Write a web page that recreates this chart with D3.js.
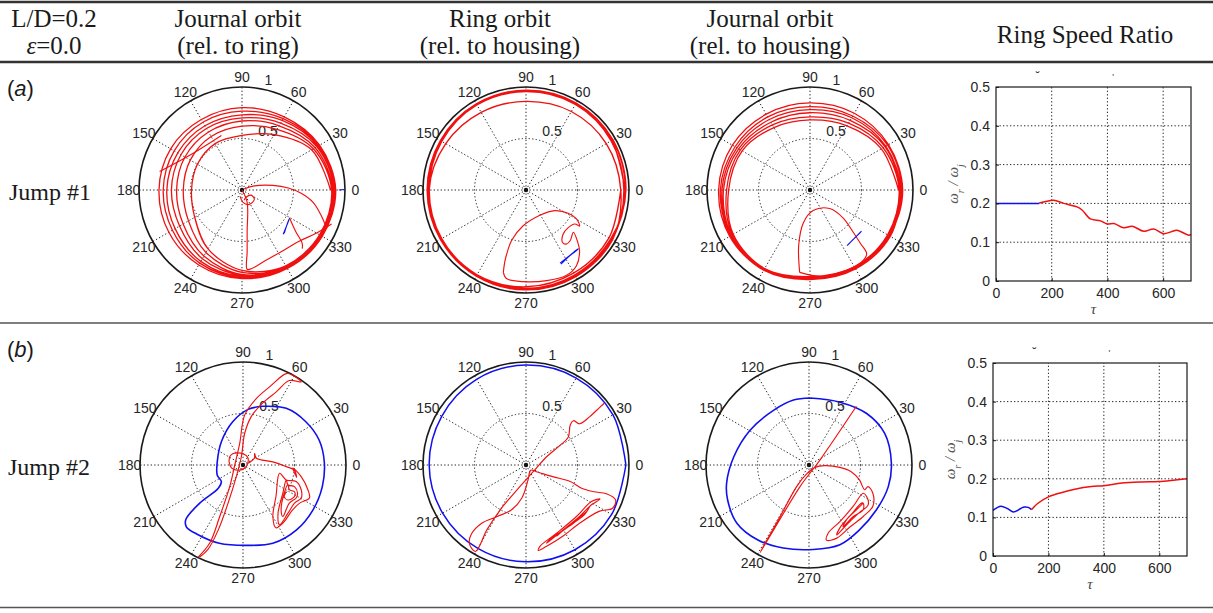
<!DOCTYPE html>
<html>
<head>
<meta charset="utf-8">
<script src="https://cdn.jsdelivr.net/npm/d3@7"></script>
<style>
  html, body { margin: 0; padding: 0; background: #fff; }
  svg { display: block; }
</style>
</head>
<body>
<svg id="fig" width="1213" height="613"></svg>
<script>
// ---------- axis ticks ----------
const angleTicks = [0, 30, 60, 90, 120, 150, 180, 210, 240, 270, 300, 330];
const radialTicks = [0.5, 1];
const loopAngles = [0, 30, 60, 90, 120, 150, 180, 210, 240, 270, 300, 330];
const tauTicks = [0, 200, 400, 600];
const ratioTicks = [0, 0.1, 0.2, 0.3, 0.4, 0.5];

// ---------- Jump #1 : journal orbit relative to ring ----------
const j1JrLoops = [
  [0.86, 0.78, 0.62, 0.53, 0.52, 0.50, 0.49, 0.53, 0.66, 0.78, 0.85, 0.87],
  [0.87, 0.80, 0.68, 0.62, 0.60, 0.58, 0.57, 0.60, 0.70, 0.80, 0.86, 0.88],
  [0.88, 0.82, 0.72, 0.67, 0.65, 0.64, 0.635, 0.66, 0.74, 0.82, 0.86, 0.88],
  [0.89, 0.84, 0.75, 0.70, 0.69, 0.685, 0.685, 0.70, 0.77, 0.83, 0.87, 0.89],
  [0.90, 0.85, 0.78, 0.73, 0.72, 0.72, 0.73, 0.75, 0.80, 0.84, 0.87, 0.89],
  [0.90, 0.86, 0.80, 0.765, 0.76, 0.76, 0.765, 0.78, 0.82, 0.85, 0.88, 0.90],
  [0.91, 0.87, 0.82, 0.80, 0.79, 0.80, 0.806, 0.82, 0.84, 0.86, 0.88, 0.90]
];
const j1JrRed = [
  [[0.46, -0.27], [0.52, -0.40], [0.585, -0.52], [0.585, -0.57]],
  [[0.02, 0.01], [0.12, 0.04], [0.30, 0.045], [0.45, 0.02], [0.57, -0.03], [0.69, -0.12], [0.77, -0.25], [0.82, -0.37]],
  [[-0.02, -0.06], [0.01, -0.12], [0.07, -0.14], [0.12, -0.09], [0.09, -0.05], [0.04, -0.07], [0.02, -0.10]],
  [[0, 0], [0.05, -0.12], [0.05, -0.40], [0.05, -0.60], [0.05, -0.77], [0.10, -0.76], [0.22, -0.69], [0.38, -0.60], [0.55, -0.50], [0.72, -0.42], [0.87, -0.33]],
  [[-0.80, 0.18], [-0.52, 0.33], [-0.20, 0.53]]
];
const j1JrBlue = [
  [[0.40, -0.43], [0.44, -0.33], [0.46, -0.28], [0.45, -0.30], [0.41, -0.42]],
  [[0.94, 0.0], [0.99, 0.005]]
];

// ---------- Jump #1 : ring orbit relative to housing ----------
const j1RhLoops = [
  [0.96, 0.96, 0.96, 0.955, 0.955, 0.95, 0.95, 0.95, 0.955, 0.96, 0.96, 0.96],
  [0.965, 0.97, 0.97, 0.965, 0.96, 0.955, 0.955, 0.955, 0.96, 0.965, 0.965, 0.965],
  [0.95, 0.955, 0.96, 0.96, 0.955, 0.945, 0.94, 0.945, 0.95, 0.955, 0.95, 0.95],
  [0.97, 0.975, 0.975, 0.97, 0.965, 0.96, 0.96, 0.96, 0.965, 0.97, 0.97, 0.97],
  [0.92, 0.90, 0.88, 0.86, 0.87, 0.90, 0.94, 0.95, 0.95, 0.94, 0.93, 0.93]
];
const j1RhRed = [
  [[-0.22, -0.80], [-0.20, -0.67], [-0.14, -0.49], [-0.03, -0.35], [0.135, -0.245], [0.28, -0.20],
   [0.41, -0.226], [0.49, -0.28], [0.52, -0.35], [0.474, -0.33], [0.41, -0.365], [0.36, -0.43],
   [0.355, -0.51], [0.39, -0.525], [0.43, -0.49], [0.46, -0.41], [0.50, -0.50], [0.52, -0.59],
   [0.49, -0.735], [0.39, -0.83], [0.20, -0.88], [-0.026, -0.89], [-0.19, -0.86], [-0.22, -0.80]]
];
const j1RhBlue = [
  [[0.33, -0.71], [0.42, -0.64], [0.506, -0.57], [0.50, -0.58], [0.41, -0.65], [0.34, -0.72]]
];

// ---------- Jump #1 : journal orbit relative to housing ----------
const j1JhLoops = [
  [0.86, 0.80, 0.72, 0.68, 0.70, 0.76, 0.79, 0.86, 0.88, 0.84, 0.86, 0.87],
  [0.865, 0.82, 0.75, 0.71, 0.73, 0.78, 0.81, 0.87, 0.885, 0.845, 0.865, 0.875],
  [0.87, 0.84, 0.78, 0.75, 0.76, 0.80, 0.84, 0.88, 0.89, 0.85, 0.87, 0.88],
  [0.88, 0.85, 0.81, 0.78, 0.79, 0.82, 0.855, 0.885, 0.89, 0.855, 0.875, 0.885],
  [0.89, 0.87, 0.83, 0.81, 0.82, 0.84, 0.87, 0.89, 0.895, 0.86, 0.88, 0.89],
  [0.90, 0.88, 0.86, 0.845, 0.85, 0.87, 0.887, 0.90, 0.90, 0.87, 0.885, 0.90]
];
const j1JhRed = [
  [[-0.10, -0.80], [-0.11, -0.54], [-0.065, -0.32], [0.03, -0.20], [0.19, -0.18], [0.32, -0.27],
   [0.42, -0.41], [0.49, -0.52], [0.55, -0.62], [0.50, -0.70], [0.30, -0.80], [0.10, -0.84], [-0.10, -0.80]]
];
const j1JhBlue = [
  [[0.37, -0.53], [0.45, -0.45], [0.50, -0.40], [0.49, -0.41], [0.43, -0.47], [0.36, -0.54]]
];

// ---------- Jump #2 : journal orbit relative to ring ----------
const j2JrBlue = [
  [[0.19, 0.57], [0.42, 0.55], [0.61, 0.42], [0.74, 0.24], [0.79, 0.02], [0.77, -0.21], [0.68, -0.435],
   [0.52, -0.63], [0.29, -0.76], [0.03, -0.78], [-0.23, -0.76], [-0.45, -0.67], [-0.55, -0.60],
   [-0.555, -0.53], [-0.42, -0.37], [-0.24, -0.226], [-0.21, -0.16], [-0.25, -0.10], [-0.25, 0.03],
   [-0.21, 0.226], [-0.10, 0.42], [0.05, 0.54], [0.19, 0.57]]
];
const j2JrRed = [
  [[-0.435, -0.894], [-0.323, -0.758], [-0.226, -0.50], [-0.129, -0.21], [-0.08, 0.0], [-0.032, 0.21],
   [0.016, 0.484], [0.129, 0.645], [0.258, 0.758], [0.42, 0.887], [0.484, 0.871], [0.565, 0.806],
   [0.45, 0.82], [0.323, 0.71], [0.19, 0.60], [0.08, 0.47], [0.016, 0.306], [-0.016, 0.08],
   [-0.065, -0.113], [-0.145, -0.37], [-0.24, -0.63], [-0.34, -0.82], [-0.42, -0.894]],
  [[-0.13, 0.08], [-0.10, 0.11], [0.0, 0.11], [0.05, 0.065], [0.03, -0.016], [-0.03, -0.05],
   [-0.11, -0.03], [-0.135, 0.03], [-0.13, 0.08]],
  [[0.05, 0.016], [0.11, 0.065], [0.113, 0.11], [0.13, 0.065], [0.29, 0.03], [0.42, -0.016],
   [0.50, -0.05], [0.52, -0.12],
   [0.484, -0.03], [0.565, -0.113], [0.63, -0.24], [0.645, -0.32], [0.55, -0.37], [0.47, -0.45],
   [0.40, -0.55], [0.32, -0.61], [0.29, -0.50], [0.32, -0.306], [0.355, -0.08],
   [0.42, -0.145], [0.516, -0.16], [0.565, -0.24], [0.565, -0.32], [0.50, -0.37], [0.435, -0.47],
   [0.355, -0.58], [0.34, -0.47], [0.387, -0.274], [0.42, -0.145],
   [0.435, -0.19], [0.50, -0.21], [0.53, -0.274], [0.516, -0.32], [0.45, -0.37], [0.387, -0.50],
   [0.37, -0.435], [0.40, -0.274], [0.435, -0.19],
   [0.45, -0.24], [0.50, -0.26], [0.50, -0.306], [0.435, -0.34], [0.40, -0.306], [0.42, -0.258]]
];

// ---------- Jump #2 : ring orbit relative to housing ----------
const j2RhBlueLoop = [0.97, 0.975, 0.975, 0.97, 0.96, 0.945, 0.94, 0.935, 0.935, 0.94, 0.95, 0.96];
const j2RhRed = [
  [[0.76, 0.60], [0.716, 0.56], [0.62, 0.47], [0.52, 0.40], [0.46, 0.43], [0.43, 0.39], [0.41, 0.27],
   [0.33, 0.19], [0.20, 0.08], [0.07, -0.065], [-0.06, -0.21], [-0.25, -0.435], [-0.38, -0.63],
   [-0.49, -0.84], [-0.55, -0.76], [-0.53, -0.67], [-0.43, -0.565], [-0.28, -0.50], [-0.14, -0.435],
   [-0.04, -0.32], [0.02, -0.145], [0.045, -0.05], [0.10, -0.065], [0.26, -0.113], [0.43, -0.16],
   [0.54, -0.226], [0.66, -0.26], [0.78, -0.28], [0.87, -0.34], [0.84, -0.42], [0.71, -0.45],
   [0.52, -0.565], [0.36, -0.69], [0.20, -0.79], [0.12, -0.83], [0.135, -0.79], [0.30, -0.66],
   [0.49, -0.50], [0.635, -0.355], [0.72, -0.33], [0.62, -0.40], [0.52, -0.50], [0.36, -0.63],
   [0.23, -0.726], [0.20, -0.76], [0.30, -0.68], [0.46, -0.55], [0.59, -0.45], [0.62, -0.40],
   [0.57, -0.48], [0.46, -0.565], [0.33, -0.66], [0.30, -0.69], [0.39, -0.61], [0.52, -0.516], [0.57, -0.48]]
];

// ---------- Jump #2 : journal orbit relative to housing ----------
const j2JhBlue = [
  [[0.01, 0.65], [0.30, 0.61], [0.56, 0.50], [0.735, 0.306], [0.80, 0.016], [0.77, -0.21], [0.655, -0.435],
   [0.49, -0.63], [0.30, -0.774], [0.04, -0.82], [-0.25, -0.806], [-0.50, -0.726], [-0.70, -0.565],
   [-0.79, -0.34], [-0.80, -0.177], [-0.73, 0.08], [-0.57, 0.34], [-0.345, 0.53], [-0.15, 0.63], [0.01, 0.65]]
];
const j2JhRed = [
  [[0.46, 0.57], [0.106, 0.048], [-0.087, -0.21], [-0.474, -0.85], [-0.426, -0.76], [-0.28, -0.50],
   [-0.12, -0.21], [-0.023, -0.087], [0.058, -0.023], [0.155, -0.006], [0.30, -0.023], [0.41, -0.065],
   [0.49, -0.145], [0.54, -0.24], [0.574, -0.21], [0.62, -0.274], [0.62, -0.40], [0.526, -0.50],
   [0.40, -0.60], [0.27, -0.71], [0.17, -0.73], [0.187, -0.66], [0.30, -0.55], [0.43, -0.40],
   [0.526, -0.274], [0.56, -0.306], [0.574, -0.387], [0.48, -0.47], [0.365, -0.58], [0.27, -0.68],
   [0.30, -0.61], [0.41, -0.48], [0.51, -0.37], [0.526, -0.37], [0.526, -0.435], [0.43, -0.50],
   [0.33, -0.60], [0.365, -0.53], [0.46, -0.435], [0.526, -0.37]]
];

// ---------- ring speed ratio ----------
const tau1Blue = [0, 155];
const ratio1Blue = [0.2, 0.2];
const tau1Red = [155, 175, 207, 243, 291, 309, 339, 375, 399, 423, 459, 489, 531, 566, 602, 638, 650, 692, 700];
const ratio1Red = [0.201, 0.204, 0.208, 0.2, 0.191, 0.183, 0.16, 0.155, 0.147, 0.148, 0.137, 0.141, 0.128, 0.134, 0.122, 0.129, 0.131, 0.118, 0.12];
const tau2Blue = [0, 28, 52, 74, 100, 113, 127, 139];
const ratio2Blue = [0.118, 0.129, 0.123, 0.114, 0.123, 0.127, 0.126, 0.12];
const tau2Red = [139, 161, 200, 246, 295, 355, 400, 465, 537, 598, 658, 700];
const ratio2Red = [0.12, 0.136, 0.153, 0.164, 0.173, 0.18, 0.182, 0.189, 0.192, 0.193, 0.197, 0.2];

// ---------- drawing ----------
const svg = d3.select('#fig');
svg.append('rect').attr('width', 1213).attr('height', 613).attr('fill', '#fff');

const RED = '#f01010';
const BLUE = '#1010ee';
const SANS = 'Liberation Sans, Arial, sans-serif';
const SERIF = 'Liberation Serif, Times New Roman, serif';
const R = 103;
const deg = Math.PI / 180;

function drawPolar(cx, cy, spec) {
  const g = svg.append('g').attr('transform', `translate(${cx},${cy})`);
  const rS = d3.scaleLinear().domain([0, 1]).range([0, R]);
  const aS = d3.scaleLinear().domain([0, 90]).range([Math.PI / 2, 0]);
  const xS = d3.scaleLinear().domain([-1, 1]).range([-R, R]);
  const yS = d3.scaleLinear().domain([-1, 1]).range([R, -R]);

  // spokes
  angleTicks.forEach(a => {
    g.append('line')
      .attr('x1', 0).attr('y1', 0)
      .attr('x2', rS(1) * Math.cos(a * deg)).attr('y2', -rS(1) * Math.sin(a * deg))
      .attr('stroke', '#222').attr('stroke-width', 1).attr('stroke-dasharray', '1.3,2.2');
  });
  // radial rings
  radialTicks.forEach(t => {
    g.append('circle').attr('r', rS(t)).attr('fill', 'none')
      .attr('stroke', t === 1 ? '#1a1a1a' : '#222')
      .attr('stroke-width', t === 1 ? 1.6 : 1)
      .attr('stroke-dasharray', t === 1 ? null : '1.3,2.2');
  });
  g.append('circle').attr('r', 2.2).attr('fill', '#111');

  // angle labels
  angleTicks.forEach(a => {
    g.append('text')
      .attr('x', rS(1.1) * Math.cos(a * deg))
      .attr('y', -rS(1.1) * Math.sin(a * deg))
      .attr('text-anchor', 'middle').attr('dominant-baseline', 'central')
      .attr('font-family', SANS).attr('font-size', 14).attr('fill', '#262626')
      .text(a);
  });
  // radial labels
  radialTicks.forEach(t => {
    g.append('text')
      .attr('x', 10 + rS(t) * Math.cos(83 * deg))
      .attr('y', -rS(t) * Math.sin(83 * deg) - 3)
      .attr('font-family', SANS).attr('font-size', 14).attr('fill', '#262626')
      .text(t);
  });

  const lineXY = d3.line().x(d => xS(d[0])).y(d => yS(d[1])).curve(d3.curveCatmullRom.alpha(0.5));
  const lineRad = d3.lineRadial().angle(d => aS(d[0])).radius(d => rS(d[1])).curve(d3.curveCatmullRom.alpha(0.5));

  (spec.loops || []).forEach(L => {
    const pts = L.radii.flatMap((rs, k) => rs.map((r, i) => [loopAngles[i] + 360 * k, r]));
    pts.push([360 * L.radii.length, L.radii[L.radii.length - 1][0]]);
    g.append('path').attr('d', lineRad(pts)).attr('fill', 'none')
      .attr('stroke', L.color).attr('stroke-width', L.width || 1.15);
  });
  (spec.paths || []).forEach(P => {
    P.segs.forEach(seg => {
      g.append('path').attr('d', lineXY(seg)).attr('fill', 'none')
        .attr('stroke', P.color).attr('stroke-width', P.width || 1.15);
    });
  });
}

// row (a)
drawPolar(242, 190, {
  loops: [{ radii: j1JrLoops, color: RED, width: 1.3 }],
  paths: [{ segs: j1JrRed, color: RED }, { segs: j1JrBlue, color: BLUE }]
});
drawPolar(526, 190, {
  loops: [{ radii: j1RhLoops, color: RED, width: 1.4 }],
  paths: [{ segs: j1RhRed, color: RED }, { segs: j1RhBlue, color: BLUE }]
});
drawPolar(810, 190, {
  loops: [{ radii: j1JhLoops, color: RED, width: 1.3 }],
  paths: [{ segs: j1JhRed, color: RED }, { segs: j1JhBlue, color: BLUE }]
});
// row (b)
drawPolar(243, 465, {
  paths: [{ segs: j2JrBlue, color: BLUE, width: 1.6 }, { segs: j2JrRed, color: RED }]
});
drawPolar(526, 465, {
  loops: [{ radii: [j2RhBlueLoop], color: BLUE, width: 1.5 }],
  paths: [{ segs: j2RhRed, color: RED }]
});
drawPolar(809, 465, {
  paths: [{ segs: j2JhBlue, color: BLUE, width: 1.6 }, { segs: j2JhRed, color: RED }]
});

// ring speed ratio panels
function drawRatio(left, top, w, h, series) {
  const g = svg.append('g');
  const x = d3.scaleLinear().domain([0, 700]).range([left, left + w]);
  const y = d3.scaleLinear().domain([0, 0.5]).range([top + h, top]);

  tauTicks.filter(t => t > 0).forEach(t => {
    g.append('line').attr('x1', x(t)).attr('x2', x(t)).attr('y1', y(0)).attr('y2', y(0.5))
      .attr('stroke', '#222').attr('stroke-dasharray', '1.3,2.2');
  });
  ratioTicks.filter(t => t > 0 && t < 0.5).forEach(t => {
    g.append('line').attr('x1', x(0)).attr('x2', x(700)).attr('y1', y(t)).attr('y2', y(t))
      .attr('stroke', '#222').attr('stroke-dasharray', '1.3,2.2');
  });

  series.forEach(s => {
    const pts = s.tau.map((t, i) => [t, s.ratio[i]]);
    g.append('path')
      .attr('d', d3.line().x(d => x(d[0])).y(d => y(d[1])).curve(d3.curveCatmullRom.alpha(0.5))(pts))
      .attr('fill', 'none').attr('stroke', s.color).attr('stroke-width', 1.5);
  });

  g.append('rect').attr('x', x(0)).attr('y', y(0.5)).attr('width', w).attr('height', h)
    .attr('fill', 'none').attr('stroke', '#1a1a1a').attr('stroke-width', 1.2);

  const xAxis = g.append('g').attr('transform', `translate(0,${y(0)})`)
    .call(d3.axisBottom(x).tickValues(tauTicks).tickSizeInner(-3).tickSizeOuter(0).tickPadding(7).tickFormat(d3.format('d')));
  const yAxis = g.append('g').attr('transform', `translate(${x(0)},0)`)
    .call(d3.axisLeft(y).tickValues(ratioTicks).tickSizeInner(-3).tickSizeOuter(0).tickPadding(6).tickFormat(d => d === 0 ? '0' : d3.format('.1f')(d)));
  [xAxis, yAxis].forEach(a => {
    a.select('.domain').remove();
    a.selectAll('line').attr('stroke', '#1a1a1a');
    a.selectAll('text').attr('font-family', SANS).attr('font-size', 14).attr('fill', '#262626');
  });

  g.append('text').attr('x', x(350)).attr('y', y(0) + 33)
    .attr('text-anchor', 'middle').attr('font-family', SERIF).attr('font-style', 'italic')
    .attr('font-size', 15).attr('fill', '#444').text('τ');

  const lab = g.append('text')
    .attr('transform', `translate(${left - 38},${top + h * 0.5}) rotate(-90)`)
    .attr('text-anchor', 'middle').attr('font-family', SERIF).attr('font-style', 'italic')
    .attr('font-size', 15).attr('fill', '#555');
  lab.append('tspan').text('ω');
  lab.append('tspan').attr('baseline-shift', 'sub').attr('font-size', 10).text('r');
  lab.append('tspan').text(' / ω');
  lab.append('tspan').attr('baseline-shift', 'sub').attr('font-size', 10).text('j');

  // remnants of a clipped title above the axes
  g.append('text').attr('x', x(150)).attr('y', top - 6).attr('text-anchor', 'middle')
    .attr('font-family', SANS).attr('font-size', 12).attr('fill', '#333').text('˘');
  g.append('text').attr('x', x(420)).attr('y', top - 7).attr('text-anchor', 'middle')
    .attr('font-family', SANS).attr('font-size', 9).attr('fill', '#333').text('\'');
}

drawRatio(996, 87, 195, 194, [
  { tau: tau1Blue, ratio: ratio1Blue, color: BLUE },
  { tau: tau1Red, ratio: ratio1Red, color: RED }
]);
drawRatio(993, 363, 194, 193, [
  { tau: tau2Blue, ratio: ratio2Blue, color: BLUE },
  { tau: tau2Red, ratio: ratio2Red, color: RED }
]);

// ---------- table frame and headings ----------
function hline(y, w, c) {
  svg.append('line').attr('x1', 0).attr('x2', 1213).attr('y1', y).attr('y2', y)
    .attr('stroke', c).attr('stroke-width', w);
}
hline(2, 2.5, '#333');
hline(62, 2.5, '#333');
hline(323, 1.6, '#555');
hline(607.5, 1.6, '#555');

function serifText(x, y, str, size, anchor) {
  return svg.append('text').attr('x', x).attr('y', y)
    .attr('text-anchor', anchor || 'middle')
    .attr('font-family', SERIF).attr('font-size', size || 25).attr('fill', '#1a1a1a')
    .text(str);
}
serifText(54, 27, 'L/D=0.2');
const eps = svg.append('text').attr('x', 54).attr('y', 54).attr('text-anchor', 'middle')
  .attr('font-family', SERIF).attr('font-size', 25).attr('fill', '#1a1a1a');
eps.append('tspan').attr('font-style', 'italic').text('ε');
eps.append('tspan').text('=0.0');

serifText(238, 27, 'Journal orbit');
serifText(238, 54, '(rel. to ring)');
serifText(500, 27, 'Ring orbit');
serifText(500, 54, '(rel. to housing)');
serifText(770, 27, 'Journal orbit');
serifText(770, 54, '(rel. to housing)');
serifText(1085, 43, 'Ring Speed Ratio');

function panelTag(y, letter) {
  const t = svg.append('text').attr('x', 7).attr('y', y)
    .attr('font-family', SANS).attr('font-size', 22).attr('fill', '#1a1a1a');
  t.append('tspan').text('(');
  t.append('tspan').attr('font-style', 'italic').text(letter);
  t.append('tspan').text(')');
}
panelTag(96, 'a');
panelTag(357, 'b');
serifText(9, 200, 'Jump #1', 24, 'start');
serifText(8, 475, 'Jump #2', 24, 'start');
</script>
</body>
</html>
